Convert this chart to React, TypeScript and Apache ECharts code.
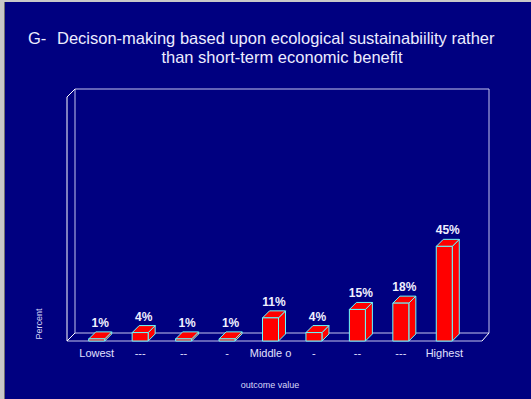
import React, { useEffect, useRef } from "react";
import * as echarts from "echarts";

const categories = ["Lowest", "---", "--", "-", "Middle o", "-", "--", "---", "Highest"];
const values = [1, 4, 1, 1, 11, 4, 15, 18, 45];
const titleLead = "G-";
const titleLine1 = "Decison-making based upon ecological sustainabiility rather";
const titleLine2 = "than short-term economic benefit";
const yName = "Percent";
const xName = "outcome value";

const FONT = 'Arial, "Liberation Sans", sans-serif';

export default function App() {
  const ref = useRef<HTMLDivElement>(null);
  useEffect(() => {
    document.body.style.margin = "0";
    const chart = echarts.init(ref.current!, null, { renderer: "svg" });
    const D = 7;
    const HALF = 8;
    const frontColor = "#ffffff";
    const backColor = "#c4c4ee";
    const lines: any[] = [
      [[75, 89], [489, 89], backColor],
      [[75, 89], [75, 333], backColor],
      [[489, 89], [489, 333], backColor],
      [[75, 333], [489, 333], backColor],
      [[67, 97], [67, 341], frontColor],
      [[67, 97], [75, 89], frontColor],
      [[67, 341], [482, 341], backColor],
      [[67, 341], [75, 333], frontColor],
      [[482, 341], [489, 333], frontColor],
    ];
    const graphic: any[] = [
      { type: "rect", shape: { x: 0, y: 0, width: 4, height: 399 }, style: { fill: "#c8c8c8" }, z: 0 },
      { type: "rect", shape: { x: 4, y: 0, width: 1, height: 399 }, style: { fill: "#707070" }, z: 0 },
      { type: "rect", shape: { x: 0, y: 0, width: 531, height: 2 }, style: { fill: "#c8c8c8" }, z: 0 },
      ...lines.map((l) => ({
        type: "line",
        shape: { x1: l[0][0], y1: l[0][1], x2: l[1][0], y2: l[1][1] },
        style: { stroke: l[2], lineWidth: 1 },
        z: 0,
      })),
      {
        type: "text",
        x: 28,
        y: 38,
        style: { text: titleLead, fill: "#ececff", font: `16.5px ${FONT}`, verticalAlign: "middle" },
      },
      {
        type: "text",
        x: 57,
        y: 38,
        style: { text: titleLine1, fill: "#ececff", font: `16.5px ${FONT}`, verticalAlign: "middle" },
      },
      {
        type: "text",
        x: 282,
        y: 57,
        style: { text: titleLine2, fill: "#ececff", font: `16.5px ${FONT}`, align: "center", verticalAlign: "middle" },
      },
      {
        type: "text",
        x: 39,
        y: 324,
        rotation: Math.PI / 2,
        style: { text: yName, fill: "#d8d8f8", font: `9px ${FONT}`, align: "center", verticalAlign: "middle" },
      },
      {
        type: "text",
        x: 270,
        y: 385,
        style: { text: xName, fill: "#d8d8f8", font: `9px ${FONT}`, align: "center", verticalAlign: "middle" },
      },
    ];

    chart.setOption({
      animation: false,
      backgroundColor: "#000080",
      grid: { left: 75, right: 65, top: 97, bottom: 58 },
      xAxis: {
        type: "category",
        data: categories,
        axisLine: { show: false },
        axisTick: { show: false },
        splitLine: { show: false },
        axisLabel: { color: "#e0e0ff", fontSize: 11, fontFamily: FONT, margin: 6, interval: 0 },
      },
      yAxis: { type: "value", min: 0, max: 116, show: false },
      graphic,
      series: [
        {
          type: "custom",
          data: values.map((v, i) => [i, v]),
          z: 5,
          renderItem: (params: any, api: any) => {
            const i = api.value(0);
            const v = api.value(1);
            const top = api.coord([i, v]);
            const base = api.coord([i, 0]);
            const cx = top[0];
            const yT = top[1];
            const yB = base[1];
            const x0 = cx - HALF;
            const x1 = cx + HALF;
            const stroke = "#66ffff";
            return {
              type: "group",
              children: [
                {
                  type: "polygon",
                  shape: { points: [[x1, yT], [x1, yB], [x1 + D, yB - D], [x1 + D, yT - D]] },
                  style: { fill: "#ff0000", stroke, lineWidth: 1 },
                },
                {
                  type: "polygon",
                  shape: { points: [[x0, yT], [x1, yT], [x1 + D, yT - D], [x0 + D, yT - D]] },
                  style: { fill: "#ff0000", stroke, lineWidth: 1 },
                },
                {
                  type: "rect",
                  shape: { x: x0, y: yT, width: x1 - x0, height: Math.max(yB - yT, 1) },
                  style: { fill: "#ff0000", stroke, lineWidth: 1 },
                },
                {
                  type: "text",
                  x: cx + D / 2,
                  y: yT - D - 9,
                  style: {
                    text: v + "%",
                    fill: "#f0f0ff",
                    font: `bold 12px ${FONT}`,
                    align: "center",
                    verticalAlign: "middle",
                  },
                },
              ],
            };
          },
        },
      ],
    });
    return () => chart.dispose();
  }, []);
  return <div ref={ref} style={{ width: 531, height: 399 }} />;
}
